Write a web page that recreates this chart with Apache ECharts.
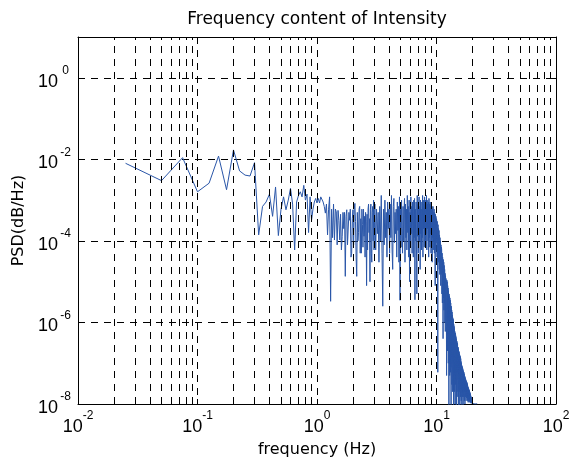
<!DOCTYPE html>
<html><head><meta charset="utf-8">
<script src="https://cdn.jsdelivr.net/npm/echarts@6/dist/echarts.min.js"></script>
<style>html,body{margin:0;padding:0;background:#fff}#c{width:576px;height:463px}</style>
</head><body><div id="c"></div>
<script>
const titleText = 'Frequency content of Intensity';
const xName = 'frequency (Hz)';
const yName = 'PSD(dB/Hz)';
const xMin = 0.01, xMax = 100, yMin = 1e-8, yMax = 10;

// PSD samples 0.025 .. 3.0 Hz (step 0.025 Hz)
const lowDf = 0.025;
const lowPsd = [
 8e-3,3e-3,1.1e-2,1.6e-3,2.6e-3,1.2e-2,1.8e-3,1.7e-2,5.2e-3,4.1e-3,3.9e-3,8.3e-3,
 1.4e-4,7e-4,9e-4,1.4e-3,4e-4,2.1e-3,1.35e-4,6e-4,1.2e-3,5.8e-4,1e-3,1.95e-3,
 8e-4,6e-5,9e-4,1.3e-3,1.6e-3,1.2e-3,2.3e-3,1e-3,1.4e-3,1.6e-4,1.2e-3,3.2e-4,
 6e-4,9e-4,1.1e-3,8.5e-4,
 1.1e-3,8.5e-4,1.2e-3,1.3e-3,9e-4,7e-4,4.8e-4,8e-4,1.4e-4,6e-4,1.2e-3,3.3e-6,
 6e-4,1.2e-4,8e-4,1.05e-4,6e-4,5.2e-4,8e-5,5.6e-4,3.2e-4,1.05e-4,4.5e-4,6e-5,
 1.26e-4,5e-4,2e-4,5e-4,1.35e-5,4e-4,5.8e-4,8e-5,7.2e-5,5e-4,3.2e-4,6e-4,
 4e-5,5e-5,3.5e-4,5.8e-4,
 8e-5,6e-4,8.3e-4,3e-4,4e-5,1.35e-5,5e-4,1e-4,1.6e-4,6e-4,7e-4,5e-5,
 3.5e-4,5e-5,6e-4,2.5e-4,7e-5,6e-4,1.3e-4,4e-4,4e-5,5e-4,3e-4,8e-6,
 4.5e-4,6e-5,6e-4,8e-4,1.6e-4,3.5e-4,1e-5,6e-4,8e-4,5e-5,3e-5,5e-4,
 7e-4,1e-4,1e-3,6e-5
];

// PSD samples 3.05 .. 22.0 Hz (step 0.05 Hz)
const highStart = 3.05, highDf = 0.05;
const highPsd = [
 8e-4,6e-5,6e-4,1.5e-4,5e-4,3e-5,7e-4,1e-4,1.3e-3,5e-5,
 2.5e-6,6e-4,8e-5,1e-3,1.2e-4,5e-4,4e-5,9e-4,2e-4,6e-4,
 5e-5,8e-4,1.2e-4,1.3e-3,6e-5,2e-5,7e-4,1.1e-3,9e-5,5e-4,
 1.5e-4,6e-4,4e-5,9e-4,1.8e-4,7e-4,3e-5,1.2e-3,3.5e-6,6e-4,
 7e-5,1e-3,2e-4,5e-5,7e-4,1e-4,6e-4,1.1e-3,3e-5,8e-4,
 1.2e-4,6e-4,6e-5,1.3e-3,1.6e-4,7e-4,4e-5,1e-3,1e-5,5e-4,
 9e-5,1.2e-3,1.5e-4,7e-4,5e-5,9e-4,2e-4,4e-5,1e-3,1.2e-4,
 1.1e-3,3.6e-6,6e-4,1e-4,9e-4,6e-5,5e-6,1.3e-3,1.3e-4,8e-4,
 5e-5,7e-4,1.2e-3,1e-4,7e-4,2e-5,1e-3,1.5e-4,6e-4,6e-5,
 9e-4,1.2e-4,1.3e-3,4e-5,1e-3,2e-4,8e-4,7e-5,1.2e-3,1.4e-4,
 1e-3,8e-5,7e-4,1.5e-4,1.3e-3,6e-5,1e-3,2e-4,8e-4,1e-4,
 9e-4,4e-5,1.1e-3,1.2e-4,8e-4,7e-5,9e-4,1.5e-4,7e-4,5e-5,
 8e-4,1e-4,7e-4,3e-5,6e-4,1.2e-4,7e-4,6e-5,5e-4,1e-4,
 6e-4,5e-5,5e-4,1e-4,8e-6,4.5e-4,6e-5,4e-4,9e-5,3.5e-4,
 3e-4,4e-5,3e-4,6e-5,6e-8,2.5e-4,3e-5,2e-4,5e-5,1.8e-4,
 2e-5,1.4e-4,1.5e-5,1.2e-4,3e-5,1e-4,8e-6,8e-5,1.5e-5,7e-5,
 6e-5,5e-6,5e-5,3e-6,4e-5,8e-6,4e-7,3.5e-5,4e-6,3e-5,
 2e-6,2.5e-5,3e-6,2e-5,1e-6,1.6e-5,6e-7,1.4e-5,2e-6,1.2e-5,
 1.3e-5,8e-7,5e-8,1.1e-5,5e-7,1e-5,2e-7,8e-6,6e-7,7e-6,
 1e-7,6e-6,3e-7,8e-9,5e-6,2e-7,4.5e-6,5e-8,4e-6,1e-7,
 3.5e-6,6e-8,3e-6,2e-7,5e-9,2.5e-6,8e-8,2e-6,3e-8,1.8e-6,
 1.5e-7,1.5e-6,2e-8,1.3e-6,1e-7,1.2e-6,1e-6,4e-9,9e-7,5e-8,
 8e-7,2e-8,7e-7,6e-8,6e-7,1e-8,5.5e-7,3e-8,5e-7,4e-8,
 4.5e-7,9e-9,4e-7,5e-8,3e-9,3.5e-7,2e-8,3.2e-7,6e-8,3e-7,
 2.8e-7,1.5e-8,2.5e-7,4e-8,2.3e-7,8e-9,2e-7,4e-9,1.9e-7,3e-8,
 1.7e-7,2e-8,1.6e-7,6e-9,1.5e-7,3e-8,1.4e-7,1.5e-8,1.3e-7,2e-8,
 1.1e-7,1.2e-8,1e-7,3e-8,9e-8,5e-9,8.5e-8,2e-8,8e-8,1.5e-8,
 7.5e-8,2.5e-8,7e-8,9e-9,6.5e-8,2e-8,6e-8,1.5e-8,6e-8,2e-8,
 5.5e-8,1.2e-8,5e-8,2e-8,4.8e-8,1e-8,4.5e-8,2e-8,4.2e-8,1.5e-8,
 4e-8,1.8e-8,3.8e-8,1.2e-8,3.6e-8,2e-8,3.5e-8,1.4e-8,3.4e-8,1.6e-8,
 3.2e-8,1.5e-8,3e-8,1.2e-8,2.8e-8,1.6e-8,2.6e-8,1.1e-8,2.5e-8,1.4e-8,
 2.4e-8,1.2e-8,2.3e-8,1.5e-8,2.2e-8,1.1e-8,2.1e-8,1.3e-8,2e-8,1.2e-8,
 1.9e-8,1.2e-8,1.8e-8,1.1e-8,1.7e-8,1.2e-8,1.6e-8,1.05e-8,1.5e-8,1.1e-8,
 1.45e-8,1.05e-8,1.4e-8,1.1e-8,1.35e-8,1.05e-8,1.3e-8,1.04e-8,1.25e-8,1.03e-8,
 1.1e-8,1e-8,1.08e-8,1.02e-8,1.06e-8,9.8e-9,1.05e-8,1.03e-8,1.04e-8,1e-8,
 1.03e-8,1.02e-8,1.03e-8,1.01e-8,1.02e-8,1e-8,1.02e-8,1.01e-8,1.01e-8,1e-8,
 1.02e-8,1.01e-8,1.02e-8,1.01e-8,1.01e-8,1.02e-8,1.01e-8,1.01e-8,1.02e-8,1.01e-8,
 1.01e-8,1.01e-8,1.02e-8,1.01e-8,1.01e-8,1.01e-8,1.01e-8,1.01e-8,1.01e-8,1.005e-8
];

// log grid structure
const decades = [0.01, 0.1, 1, 10];
const minorSteps = [2, 3, 4, 5, 6, 7, 8, 9];

const data = [];
lowPsd.forEach((v, i) => data.push([+((i + 1) * lowDf).toFixed(3), v]));
highPsd.forEach((v, i) => data.push([+(highStart + i * highDf).toFixed(3), v]));

const minorLines = [];
decades.forEach(d => minorSteps.forEach(m => minorLines.push({ xAxis: +(d * m).toPrecision(3) })));

const tickFont = "'Liberation Sans',Arial,sans-serif";
const textFont = "'DejaVu Sans',sans-serif";
const dash = [7, 6];
const black = '#000';

const supFmt = v => '{b|10}{s|' + Math.round(Math.log10(v)) + '}';
const ySupFmt = v => { const e = Math.round(Math.log10(v)); return (e % 2 === 0) ? '{b|10}{s|' + e + '}' : ''; };
const richX = {
  b: { fontFamily: tickFont, fontSize: 18, color: black, lineHeight: 26, verticalAlign: 'bottom' },
  s: { fontFamily: tickFont, fontSize: 12, color: black, lineHeight: 14, verticalAlign: 'top' }
};
const richY = {
  b: { fontFamily: tickFont, fontSize: 18, color: black, lineHeight: 26, verticalAlign: 'bottom' },
  s: { fontFamily: tickFont, fontSize: 12, color: black, lineHeight: 14, verticalAlign: 'top', width: 15, align: 'left' }
};
const axisLine = { show: true, onZero: false, lineStyle: { color: black, width: 1 } };
const tick = { show: true, inside: true, length: 5, lineStyle: { color: black, width: 1 } };

const chart = echarts.init(document.getElementById('c'), null, { renderer: 'canvas' });
chart.setOption({
  animation: false,
  backgroundColor: '#fff',
  grid: { left: 78, right: 20, top: 37, bottom: 58 },
  xAxis: [
    { type: 'log', logBase: 10, min: xMin, max: xMax, interval: 1, position: 'bottom',
      name: xName, nameLocation: 'middle', nameGap: 38,
      nameTextStyle: { fontFamily: textFont, fontSize: 16, color: black },
      axisLine, axisTick: tick,
      axisLabel: { show: true, margin: 6, formatter: supFmt, rich: richX },
      splitLine: { show: true, lineStyle: { color: black, type: dash, width: 1 } } },
    { type: 'log', logBase: 10, min: xMin, max: xMax, interval: 1, position: 'top',
      name: titleText, nameLocation: 'middle', nameGap: 9,
      nameTextStyle: { fontFamily: textFont, fontSize: 17, color: black },
      axisLine, axisTick: tick, axisLabel: { show: false }, splitLine: { show: false } }
  ],
  yAxis: [
    { type: 'log', logBase: 10, min: yMin, max: yMax, interval: 2, position: 'left',
      name: yName, nameLocation: 'middle', nameGap: 43, nameRotate: 90,
      nameTextStyle: { fontFamily: textFont, fontSize: 16, color: black },
      axisLine, axisTick: tick,
      axisLabel: { show: true, margin: 5, formatter: ySupFmt, rich: richY },
      splitLine: { show: true, lineStyle: { color: black, type: dash, width: 1 } } },
    { type: 'log', logBase: 10, min: yMin, max: yMax, interval: 2, position: 'right',
      axisLine, axisTick: tick, axisLabel: { show: false }, splitLine: { show: false } }
  ],
  series: [
    { type: 'line', xAxisIndex: 0, yAxisIndex: 0, data: [], z: 1, silent: true,
      markLine: { silent: true, symbol: ['none', 'none'], label: { show: false }, animation: false,
        lineStyle: { color: black, type: dash, width: 1 }, emphasis: { disabled: true }, data: minorLines } },
    { type: 'line', xAxisIndex: 0, yAxisIndex: 0, data, z: 3, showSymbol: false, symbol: 'none',
      clip: true, sampling: false, lineStyle: { color: '#2a56a8', width: 1 }, emphasis: { disabled: true } }
  ]
});
</script></body></html>
